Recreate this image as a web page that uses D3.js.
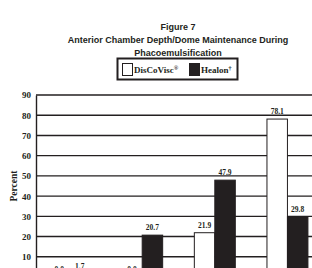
<!DOCTYPE html>
<html>
<head>
<meta charset="utf-8">
<script src="https://cdn.jsdelivr.net/npm/d3@7"></script>
<style>
  body { margin: 0; background: #fff; }
  svg { display: block; }
</style>
</head>
<body>
<svg width="312" height="268"></svg>
<script>
// data (group labels are below the visible area)
var groups = ["g1", "g2", "g3", "g4"];
var series = ["DisCoVisc®", "Healon†"];
var discovisc = [0.0, 0.0, 21.9, 78.1];
var healon = [1.7, 20.7, 47.9, 29.8];
var yTicks = [10, 20, 30, 40, 50, 60, 70, 80, 90];
var titleLines = ["Figure 7", "Anterior Chamber Depth/Dome Maintenance During", "Phacoemulsification"];

var colors = { "DisCoVisc®": "#fff", "Healon†": "#231f20" };
var ink = "#231f20";
var serif = "'Liberation Serif', 'Times New Roman', serif";

var svg = d3.select("svg");

var x0 = d3.scaleBand().domain(groups).range([36, 321])
    .paddingInner(0.436).paddingOuter(0.18);
var x1 = d3.scaleBand().domain(series).range([0, x0.bandwidth()]);
var y = d3.scaleLinear().domain([0, 90]).range([277, 95]);

// gridlines
svg.append("g").selectAll("line")
  .data(yTicks)
  .enter().append("line")
    .attr("x1", 36).attr("x2", 320)
    .attr("y1", function(d) { return y(d); })
    .attr("y2", function(d) { return y(d); })
    .attr("stroke", ink)
    .attr("stroke-width", 1.4);

// y axis
var yAxis = d3.axisLeft(y).tickValues(yTicks).tickSize(0).tickPadding(5);
var ga = svg.append("g").attr("transform", "translate(36,0)").call(yAxis);
ga.select(".domain").attr("stroke", ink).attr("stroke-width", 1.4);
ga.selectAll("text")
    .attr("font-family", serif)
    .attr("font-weight", "bold")
    .attr("font-size", 9)
    .attr("fill", ink);

svg.append("text")
    .attr("transform", "translate(17,186) rotate(-90)")
    .attr("text-anchor", "middle")
    .attr("font-family", serif)
    .attr("font-weight", "bold")
    .attr("font-size", 9.5)
    .attr("fill", ink)
    .text("Percent");

// bars
var rows = groups.map(function(g, i) {
  return [{ g: g, s: series[0], v: discovisc[i] }, { g: g, s: series[1], v: healon[i] }];
});

var grp = svg.append("g").selectAll("g")
  .data(rows)
  .enter().append("g")
    .attr("transform", function(d) { return "translate(" + x0(d[0].g) + ",0)"; });

grp.selectAll("rect")
  .data(function(d) { return d; })
  .enter().append("rect")
    .attr("x", function(d) { return x1(d.s); })
    .attr("width", x1.bandwidth())
    .attr("y", function(d) { return y(d.v); })
    .attr("height", function(d) { return y(0) - y(d.v); })
    .attr("fill", function(d) { return colors[d.s]; })
    .attr("stroke", ink)
    .attr("stroke-width", 1);

grp.selectAll("text")
  .data(function(d) { return d; })
  .enter().append("text")
    .attr("x", function(d) { return x1(d.s) + x1.bandwidth() / 2; })
    .attr("y", function(d) { return y(d.v) - 5; })
    .attr("text-anchor", "middle")
    .attr("font-family", serif)
    .attr("font-weight", "bold")
    .attr("font-size", 7.5)
    .attr("fill", ink)
    .text(function(d) { return d.v.toFixed(1); });

// title
svg.append("g").selectAll("text")
  .data(titleLines)
  .enter().append("text")
    .attr("x", 178)
    .attr("y", function(d, i) { return 29.5 + i * 13; })
    .attr("text-anchor", "middle")
    .attr("font-family", "'Liberation Sans', Arial, sans-serif")
    .attr("font-weight", "bold")
    .attr("font-size", 9)
    .attr("fill", ink)
    .text(function(d) { return d; });

// legend
var lg = svg.append("g");
lg.append("rect")
    .attr("x", 117.5).attr("y", 58.5)
    .attr("width", 120).attr("height", 21)
    .attr("fill", "#fff")
    .attr("stroke", ink)
    .attr("stroke-width", 2);

var legX = [122, 189];
series.forEach(function(s, i) {
  lg.append("rect")
      .attr("x", legX[i] + 0.5).attr("y", 63.5)
      .attr("width", 10).attr("height", 12)
      .attr("fill", colors[s])
      .attr("stroke", ink)
      .attr("stroke-width", 1);
  var t = lg.append("text")
      .attr("x", legX[i] + 12)
      .attr("y", 73)
      .attr("font-family", serif)
      .attr("font-weight", "bold")
      .attr("font-size", 9)
      .attr("fill", ink);
  t.append("tspan").text(s.slice(0, -1));
  t.append("tspan")
      .attr("font-size", 6)
      .attr("dy", -3)
      .text(s.slice(-1));
});
</script>
</body>
</html>
